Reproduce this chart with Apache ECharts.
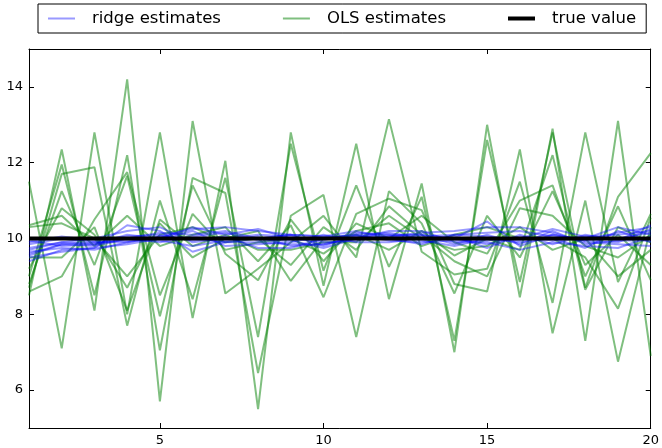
<!DOCTYPE html>
<html>
<head>
<meta charset="utf-8">
<script src="https://cdn.jsdelivr.net/npm/echarts@6/dist/echarts.min.js"></script>
<style>html,body{margin:0;padding:0;background:#fff}#c{width:662px;height:448px}</style>
</head>
<body>
<div id="c"></div>
<script>
var xs = [1,2,3,4,5,6,7,8,9,10,11,12,13,14,15,16,17,18,19,20];
var xTicks = [5,10,15,20];
var yTicks = [6,8,10,12,14];
var trueValue = [10,10,10,10,10,10,10,10,10,10,10,10,10,10,10,10,10,10,10,10];

var ols1  = [11.5,7.1,12.8,8.0,12.8,7.9,12.05,5.5,12.8,8.75,12.5,8.4,11.45,7.0,13.0,8.45,12.9,7.3,13.1,6.9];
var ols2  = [8.5,12.35,8.1,14.2,5.7,13.1,8.55,9.2,9.9,10.6,9.5,13.15,9.65,9.05,9.2,11.5,8.3,12.8,8.85,10.65];
var ols3  = [9.0,11.95,8.5,12.2,7.05,11.6,11.2,6.45,10.6,11.15,7.4,11.25,10.4,8.55,10.6,9.5,11.25,9.3,10.1,9.3];
var ols4  = [8.7,11.7,11.88,7.7,11.0,8.4,11.6,7.4,12.5,9.15,11.4,9.25,11.1,7.3,12.6,8.85,12.8,8.7,11.1,12.25];
var ols5  = [10.3,10.4,10.0,9.0,10.1,10.3,9.9,10.0,9.3,10.3,9.7,10.85,10.1,9.4,9.0,10.8,10.6,9.8,9.5,10.1];
var ols6  = [10.35,10.6,9.8,10.6,9.8,10.1,10.3,9.4,10.35,8.45,10.65,11.05,10.75,8.8,8.6,12.35,7.5,11.0,6.75,10.3];
var ols7  = [8.8,11.25,9.3,11.65,7.95,11.4,9.6,8.9,10.5,9.4,10.4,10.0,10.6,9.9,9.6,11.0,11.4,9.0,10.85,8.9];
var ols8  = [9.2,10.8,10.1,8.7,10.4,9.5,10.0,10.2,8.88,10.0,10.1,9.7,10.2,9.55,10.0,9.7,12.2,8.65,10.3,9.9];
var ols9  = [8.6,9.0,10.5,11.75,8.5,10.65,9.7,9.9,10.0,9.6,10.2,10.4,9.8,10.1,10.3,10.0,10.0,9.5,8.15,10.55];
var ols10 = [9.5,9.5,10.3,8.1,10.5,9.8,10.1,9.7,9.7,9.9,9.9,10.6,10.0,9.7,9.8,10.3,9.7,10.0,9.0,9.7];

var ridge1  = [9.4,9.7,9.75,10.35,10.2,9.65,9.9,9.9,9.85,9.85,10.05,10.1,10.1,9.85,10.1,9.85,10.2,9.85,9.95,10.35];
var ridge2  = [9.55,9.85,9.8,10.0,10.15,10.1,10.2,10.0,10.1,9.8,10.1,10.15,10.0,10.0,10.45,9.8,10.1,9.95,10.15,10.3];
var ridge3  = [9.65,9.75,9.7,9.9,10.05,10.25,10.3,10.2,10.1,10.05,10.2,10.0,10.05,10.1,10.15,10.2,10.05,10.0,10.3,10.1];
var ridge4  = [9.75,9.9,9.85,10.1,10.0,10.3,10.1,10.25,10.0,9.9,9.95,10.05,10.15,10.2,10.3,10.3,10.15,9.9,9.85,9.8];
var ridge5  = [9.85,10.0,9.9,9.95,9.95,9.8,9.95,10.05,9.8,9.85,10.0,10.2,10.2,9.9,9.9,9.7,9.9,9.8,9.75,10.05];
var ridge6  = [9.9,10.05,9.95,10.05,10.1,9.95,10.05,9.75,9.75,10.0,10.1,9.95,9.9,9.95,9.95,10.0,10.25,10.05,10.1,10.2];
var ridge7  = [9.5,9.65,9.75,9.85,10.0,10.2,9.8,9.85,9.9,10.1,9.9,9.9,10.0,10.05,9.75,10.1,9.85,10.1,9.95,9.95];
var ridge8  = [9.7,9.9,10.0,10.2,10.3,9.9,10.0,10.1,10.05,9.95,10.15,10.1,9.95,9.8,10.0,9.9,10.0,9.75,10.2,9.9];
var ridge9  = [9.95,9.8,9.85,10.0,9.9,10.05,10.15,9.95,9.95,9.75,10.0,10.05,10.1,10.0,9.85,10.05,9.95,10.05,10.0,10.15];
var ridge10 = [9.6,9.85,9.9,9.9,10.05,10.0,9.9,10.0,10.1,10.05,10.05,10.0,9.85,10.1,10.05,9.95,10.1,9.95,9.9,10.25];

var olsSets = [ols1,ols2,ols3,ols4,ols5,ols6,ols7,ols8,ols9,ols10];
var ridgeSets = [ridge1,ridge2,ridge3,ridge4,ridge5,ridge6,ridge7,ridge8,ridge9,ridge10];

function pairs(vals){ return xs.map(function(x,i){ return [x, vals[i]]; }); }

var FONT = 'DejaVu Sans';
var series = [];
ridgeSets.forEach(function(v){
  series.push({name:'ridge estimates', type:'line', data:pairs(v), symbol:'none', silent:true,
    lineStyle:{color:'#0000ff', width:2, opacity:0.4}, itemStyle:{color:'#0000ff', opacity:0.4}, z:3});
});
olsSets.forEach(function(v){
  series.push({name:'OLS estimates', type:'line', data:pairs(v), symbol:'none', silent:true,
    lineStyle:{color:'#008000', width:2, opacity:0.5}, itemStyle:{color:'#008000', opacity:0.5}, z:2});
});
series.push({name:'true value', type:'line', data:pairs(trueValue), symbol:'none', silent:true,
  lineStyle:{color:'#000000', width:4}, itemStyle:{color:'#000000'}, z:4});

var axisCommon = {
  type:'value',
  axisLine:{show:true, onZero:false, lineStyle:{color:'#000', width:1}},
  splitLine:{show:false}
};

var chart = echarts.init(document.getElementById('c'), null, {renderer:'canvas'});
chart.setOption({
  animation:false,
  backgroundColor:'#fff',
  grid:{left:29, right:7, top:49, bottom:20, containLabel:false},
  legend:{
    left:38, top:4, padding:[6,10,6,10],
    borderColor:'#000', borderWidth:1, borderRadius:0,
    itemWidth:27, itemHeight:14, itemGap:62, symbolKeepAspect:true,
    textStyle:{fontFamily:FONT, fontSize:16.5, color:'#000', padding:[0,0,0,12]},
    data:[
      {name:'ridge estimates', icon:'path://M0,0L27,0L27,2L0,2Z', itemStyle:{color:'#0000ff', opacity:0.4}},
      {name:'OLS estimates', icon:'path://M0,0L27,0L27,2L0,2Z', itemStyle:{color:'#008000', opacity:0.5}},
      {name:'true value', icon:'path://M0,0L27,0L27,4L0,4Z', itemStyle:{color:'#000000', opacity:1}}
    ],
    selectedMode:false
  },
  xAxis:[
    Object.assign({}, axisCommon, {min:1, max:20, position:'bottom',
      axisTick:{show:true, inside:true, length:5, lineStyle:{color:'#000'}, customValues:xTicks},
      axisLabel:{show:true, customValues:xTicks, color:'#000', fontFamily:FONT, fontSize:13, margin:6}}),
    Object.assign({}, axisCommon, {min:1, max:20, position:'top',
      axisTick:{show:true, inside:true, length:5, lineStyle:{color:'#000'}, customValues:xTicks},
      axisLabel:{show:false}})
  ],
  yAxis:[
    Object.assign({}, axisCommon, {min:5, max:15, position:'left',
      axisTick:{show:true, inside:true, length:5, lineStyle:{color:'#000'}, customValues:yTicks},
      axisLabel:{show:true, customValues:yTicks, color:'#000', fontFamily:FONT, fontSize:13, margin:6}}),
    Object.assign({}, axisCommon, {min:5, max:15, position:'right',
      axisTick:{show:true, inside:true, length:5, lineStyle:{color:'#000'}, customValues:yTicks},
      axisLabel:{show:false}})
  ],
  series:series
});
</script>
</body>
</html>
